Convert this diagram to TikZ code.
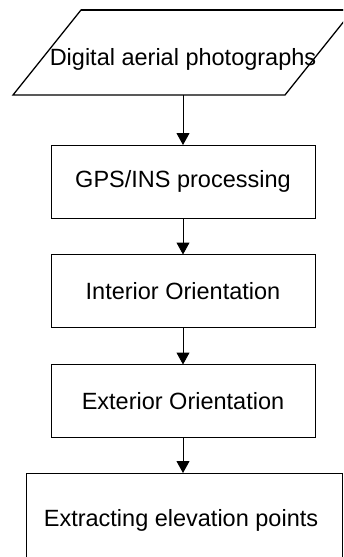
\documentclass[tikz,border=0pt]{standalone}
\usepackage{fontspec}
\setmainfont{Liberation Sans}
\usetikzlibrary{arrows.meta}
\begin{document}
\begin{tikzpicture}[x=1pt,y=-1pt,
  box/.style={draw=black,line width=1pt,minimum width=264pt,minimum height=73pt,inner sep=0pt,outer sep=0pt,font=\fontsize{23.5}{27}\selectfont},
  arr/.style={-{Triangle[length=12pt,width=13pt]},line width=1pt},
  lbl/.style={inner sep=0pt,font=\fontsize{23.5}{27}\selectfont}]
\useasboundingbox[clip] (0,0) rectangle (343,557);
\fill[white] (0,0) rectangle (343,557);
% parallelogram (input)
\draw[line width=1.3pt,line join=miter] (81,10) -- (353,10) -- (285,95) -- (13,95) -- cycle;
\draw[line width=2pt] (81,10) -- (353,10);
\node[lbl] (p) at (183,59) {Digital aerial photographs};
\coordinate (pb) at (183,95);
\node[box] (b1) at (183,181.5) {GPS/INS processing};
\node[box] (b2) at (183,291) {Interior Orientation};
\node[box] (b3) at (183,401) {Exterior Orientation};
\node[box,minimum width=316pt,minimum height=95pt] (b4) at (184,520.5) {\hspace*{-6pt}Extracting elevation points};
\draw[arr] (pb) -- (b1.north);
\draw[arr] (b1.south) -- (b2.north);
\draw[arr] (b2.south) -- (b3.north);
\draw[arr] (b3.south) -- (b4.north -| b3.south);
\end{tikzpicture}
\end{document}
